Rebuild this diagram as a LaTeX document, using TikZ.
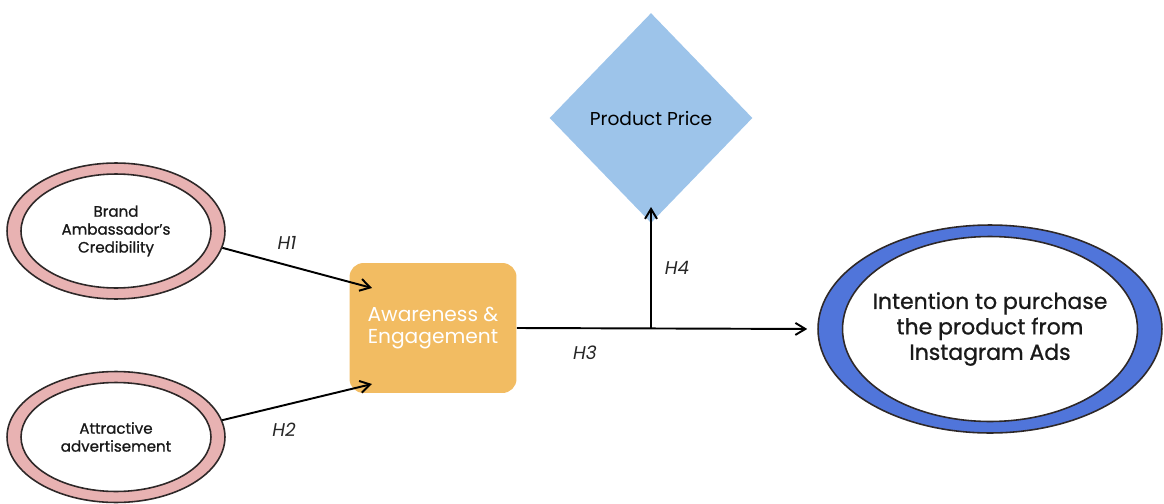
\documentclass[tikz,border=0pt]{standalone}
\usepackage{fontspec}
\setmainfont{Poppins}
\newfontfamily\roundfont{Poppins}[FakeBold=0.9,Ligatures=TeX]
\usepackage{tikz}
\usetikzlibrary{positioning,arrows.meta,calc,shapes.geometric}
\usepackage{xcolor}
\definecolor{ringpink}{HTML}{E8B2B2}
\definecolor{ringblue}{HTML}{5075DA}
\definecolor{boxorange}{HTML}{F2BC62}
\definecolor{pricesky}{HTML}{9DC4EA}
\definecolor{edgedark}{HTML}{2E2828}
\tikzset{
  >={Straight Barb[length=2mm,width=2.4mm]},
}

\begin{document}
\begin{tikzpicture}[x=0.02cm, y=-0.02cm,
  ring/.style={ellipse, draw=edgedark, line width=0.9pt, fill=ringpink, inner sep=0pt},
  hole/.style={ellipse, draw=edgedark, line width=0.9pt, fill=white, inner sep=0pt},
  lbl/.style={align=center, text=black!90, inner sep=0pt},
  arr/.style={->, line width=1.1pt, black},
  hyp/.style={font=\fontsize{10.5}{12}\selectfont\itshape, text=black!85}
]
  \useasboundingbox (0,0) rectangle (1164,504);

  % predictors
  \node[ring, minimum width=4.36cm, minimum height=2.72cm] (brand) at (116,231) {};
  \node[hole, minimum width=3.8cm, minimum height=2.28cm] (brandin) at (brand.center) {};
  \node[lbl, font=\roundfont\fontsize{8.6}{10.2}\selectfont] (brandtxt) at (brand.center)
    {Brand\\Ambassador’s\\Credibility};
  \node[ring, minimum width=4.36cm, minimum height=2.62cm] (advert) at (116,437) {};
  \node[hole, minimum width=3.8cm, minimum height=2.18cm] (advertin) at (advert.center) {};
  \node[lbl, font=\roundfont\fontsize{8.6}{10.2}\selectfont] (adverttxt) at (advert.center)
    {Attractive\\advertisement};

  % mediator and moderator
  \node[draw=none, fill=boxorange, rounded corners=8pt, minimum width=3.34cm, minimum height=2.6cm,
    align=center, text=white, font=\fontsize{11.5}{12}\selectfont] (aware) at (433,328)
    {Awareness \&\\Engagement};
  \node[diamond, fill=pricesky, inner sep=0pt, minimum width=4.06cm, minimum height=4.2cm,
    font=\fontsize{10.6}{12}\selectfont] (price) at (651,118) {Product Price};

  % outcome
  \node[ring, fill=ringblue, minimum width=6.88cm, minimum height=4.16cm] (intent) at (990,329) {};
  \node[hole, minimum width=5.9cm, minimum height=3.7cm] (intentin) at (intent.center) {};
  \node[lbl, font=\roundfont\fontsize{12.5}{14.5}\selectfont] (intenttxt) at (intent.center)
    {Intention to purchase\\the product from\\Instagram Ads};

  \coordinate (h1end) at (372,288);
  \coordinate (h2end) at (372,384);
  \coordinate (junc) at (651,328);
  \coordinate (h4end) at (651,207);

  \draw[arr] (brand.-9) -- (h1end);
  \draw[arr] (advert.9) -- (h2end);
  \draw[arr, shorten >=10*0.02cm] (aware.east) -- (intent.west);
  \draw[arr] (junc) -- (h4end);

  \node[hyp] (h1) at (287,243) {H1};
  \node[hyp] (h2) at (284,430) {H2};
  \node[hyp] (h3) at (585,353) {H3};
  \node[hyp] (h4) at (677,268) {H4};
\end{tikzpicture}
\end{document}
